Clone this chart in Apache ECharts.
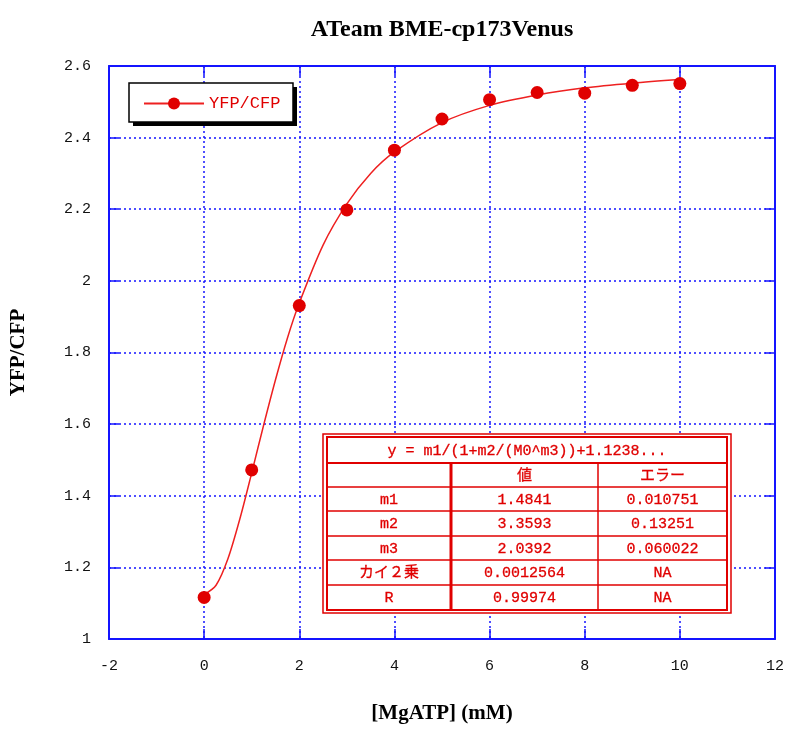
<!DOCTYPE html>
<html>
<head>
<meta charset="utf-8">
<script src="https://cdn.jsdelivr.net/npm/echarts@6/dist/echarts.min.js"></script>
<style>html,body{margin:0;padding:0;background:#fff;overflow:hidden;}#c{width:787px;height:729px;}</style>
</head>
<body>
<div id="c"></div>
<script>
// measured points
const mgAtp = [0, 1, 2, 3, 4, 5, 6, 7, 8, 9, 10];
const ratio = [1.116, 1.472, 1.931, 2.198, 2.365, 2.452, 2.506, 2.526, 2.524, 2.546, 2.551];
// fitted curve
const fitX = [0, 0.25, 0.5, 0.75, 1, 1.25, 1.5, 1.75, 2, 2.5, 3, 3.5, 4, 5, 6, 7, 8, 9, 10];
const fitY = [1.124, 1.15, 1.224, 1.335, 1.464, 1.597, 1.724, 1.84, 1.938, 2.1, 2.215, 2.3, 2.36, 2.442, 2.49, 2.519, 2.539, 2.552, 2.562];
// axis ticks
const xTicks = [-2, 0, 2, 4, 6, 8, 10, 12];
const yTicks = [1, 1.2, 1.4, 1.6, 1.8, 2, 2.2, 2.4, 2.6];
// fit table
const fitEquation = 'y = m1/(1+m2/(M0^m3))+1.1238...';
const tableHeader = ['', '値', 'エラー'];
const paramNames = ['m1', 'm2', 'm3', 'カイ２乗', 'R'];
const paramValues = ['1.4841', '3.3593', '2.0392', '0.0012564', '0.99974'];
const paramErrors = ['0.010751', '0.13251', '0.060022', 'NA', 'NA'];
</script>
<script>
const RED = '#e00000';
const BLUE = '#1414ff';
const MONO = '"Liberation Mono","DejaVu Sans Mono",monospace';
const SERIF = '"Liberation Serif","DejaVu Serif",serif';
const CJK = '"Liberation Mono","Noto Sans CJK JP",monospace';

const chart = echarts.init(document.getElementById('c'), null, {renderer: 'canvas'});

const xMin = xTicks[0], xMax = xTicks[xTicks.length - 1], xInt = xTicks[1] - xTicks[0];
const yMin = yTicks[0], yMax = yTicks[yTicks.length - 1], yInt = 0.2;

const g = [];
// legend box with drop shadow
g.push({type: 'rect', shape: {x: 133, y: 87, width: 164, height: 39}, style: {fill: '#000'}, z: 1});
g.push({type: 'rect', shape: {x: 129, y: 83, width: 164, height: 39}, style: {fill: '#fff', stroke: '#000', lineWidth: 1.5}, z: 2});

// table graphic
const tbl = {x0: 323, y0: 434, x1: 731, y1: 613};
const rowsY = [437, 463, 487, 511, 536, 560, 585, 610];
const colX = [327, 451, 598, 727];
g.push({type: 'rect', shape: {x: tbl.x0, y: tbl.y0, width: tbl.x1 - tbl.x0, height: tbl.y1 - tbl.y0}, style: {fill: '#fff', stroke: RED, lineWidth: 1.5}, z: 100});
g.push({type: 'rect', shape: {x: colX[0], y: rowsY[0], width: colX[3] - colX[0], height: rowsY[7] - rowsY[0]}, style: {fill: 'none', stroke: RED, lineWidth: 2}, z: 101});
for (let i = 1; i < rowsY.length - 1; i++) {
  g.push({type: 'line', shape: {x1: colX[0], y1: rowsY[i], x2: colX[3], y2: rowsY[i]}, style: {stroke: RED, lineWidth: i === 1 ? 2 : 1.5}, z: 101});
}
g.push({type: 'line', shape: {x1: colX[1], y1: rowsY[1], x2: colX[1], y2: rowsY[7]}, style: {stroke: RED, lineWidth: 3}, z: 101});
g.push({type: 'line', shape: {x1: colX[2], y1: rowsY[1], x2: colX[2], y2: rowsY[7]}, style: {stroke: RED, lineWidth: 1.5}, z: 101});
function cellText(t, cx, cy) {
  return {type: 'text', x: cx, y: cy, style: {text: t, fill: RED, font: '15px ' + CJK, align: 'center', verticalAlign: 'middle', stroke: RED, lineWidth: 0.3}, z: 102};
}
g.push(cellText(fitEquation, (colX[0] + colX[3]) / 2, (rowsY[0] + rowsY[1]) / 2 + 1));
const colC = [(colX[0] + colX[1]) / 2, (colX[1] + colX[2]) / 2, (colX[2] + colX[3]) / 2];
tableHeader.forEach((t, j) => { if (t) g.push(cellText(t, colC[j], (rowsY[1] + rowsY[2]) / 2 + 1)); });
paramNames.forEach((n, i) => {
  const cy = (rowsY[i + 2] + rowsY[i + 3]) / 2 + 1;
  g.push(cellText(n, colC[0], cy));
  g.push(cellText(paramValues[i], colC[1], cy));
  g.push(cellText(paramErrors[i], colC[2], cy));
});

const option = {
  backgroundColor: '#fff',
  animation: false,
  title: {
    text: 'ATeam BME-cp173Venus', left: 437, top: 13, textAlign: 'center',
    textStyle: {fontFamily: SERIF, fontWeight: 'bold', fontSize: 24, color: '#000'}
  },
  legend: {
    data: ['YFP/CFP'], left: 129, top: 83, orient: 'vertical',
    padding: [12, 11, 12, 14], itemWidth: 60, itemHeight: 15, itemGap: 0,
    textStyle: {color: RED, fontFamily: MONO, fontSize: 17}
  },
  grid: {left: 108, right: 12, top: 66, bottom: 71, containLabel: false},
  xAxis: [{
    type: 'value', min: xMin, max: xMax, interval: xInt,
    name: '[MgATP] (mM)', nameLocation: 'middle', nameGap: 64,
    nameTextStyle: {fontFamily: SERIF, fontWeight: 'bold', fontSize: 21, color: '#000'},
    axisLine: {show: true, onZero: false, lineStyle: {color: BLUE, width: 2}},
    axisTick: {show: true, inside: true, length: 10, lineStyle: {color: BLUE, width: 1.5}},
    axisLabel: {margin: 20, color: '#111', fontFamily: MONO, fontSize: 15},
    splitLine: {show: true, lineStyle: {color: BLUE, type: [2, 3], width: 1.5}}
  }, {
    type: 'value', position: 'top', min: xMin, max: xMax, interval: xInt,
    axisLine: {show: true, onZero: false, lineStyle: {color: BLUE, width: 2}},
    axisTick: {show: true, inside: true, length: 10, lineStyle: {color: BLUE, width: 1.5}},
    axisLabel: {show: false}, splitLine: {show: false}
  }],
  yAxis: [{
    type: 'value', min: yMin, max: yMax, interval: yInt,
    name: 'YFP/CFP', nameLocation: 'middle', nameGap: 80, nameRotate: 90,
    nameTextStyle: {fontFamily: SERIF, fontWeight: 'bold', fontSize: 21, color: '#000'},
    axisLine: {show: true, onZero: false, lineStyle: {color: BLUE, width: 2}},
    axisTick: {show: true, inside: true, length: 10, lineStyle: {color: BLUE, width: 1.5}},
    axisLabel: {margin: 18, color: '#111', fontFamily: MONO, fontSize: 15},
    splitLine: {show: true, lineStyle: {color: BLUE, type: [2, 3], width: 1.5}}
  }, {
    type: 'value', position: 'right', min: yMin, max: yMax, interval: yInt,
    axisLine: {show: true, onZero: false, lineStyle: {color: BLUE, width: 2}},
    axisTick: {show: true, inside: true, length: 10, lineStyle: {color: BLUE, width: 1.5}},
    axisLabel: {show: false}, splitLine: {show: false}
  }],
  series: [{
    name: 'YFP/CFP', type: 'line', smooth: 0.3,
    data: fitX.map((x, i) => [x, fitY[i]]),
    symbol: 'circle', symbolSize: 13, showSymbol: false,
    itemStyle: {color: RED},
    lineStyle: {color: '#ee2020', width: 1.5}, z: 3
  }, {
    name: 'points', type: 'scatter',
    data: mgAtp.map((x, i) => [x, ratio[i]]),
    symbol: 'circle', symbolSize: 13,
    itemStyle: {color: RED, opacity: 1}, z: 4
  }],
  graphic: g
};
chart.setOption(option);
</script>
</body>
</html>
